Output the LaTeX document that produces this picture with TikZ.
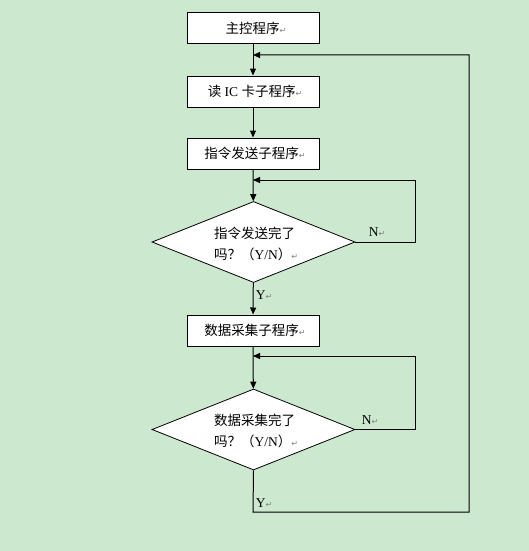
\documentclass[tikz,border=0pt]{standalone}
\usepackage{fontspec}
\setmainfont{Liberation Serif}
\newfontfamily\cjk{Noto Sans CJK SC}
\newfontfamily\symf{DejaVu Sans}
\usetikzlibrary{shapes.geometric,arrows.meta}
\definecolor{bg}{RGB}{204,232,207}
\newcommand\pmark{{\symf\color{gray}\fontsize{8}{8}\selectfont ↵}}
\tikzset{
  box/.style={draw=black,line width=1pt,fill=white,minimum width=132pt,minimum height=31pt,inner sep=0pt,font=\fontsize{13.5}{16}\selectfont},
  dia/.style={draw=black,line width=0.8pt,fill=white,diamond,minimum width=203pt,minimum height=81pt,inner sep=0pt},
  dtext/.style={align=left,font=\fontsize{13.5}{21}\selectfont,inner sep=0pt},
  lbl/.style={font=\fontsize{13.5}{16}\selectfont,inner sep=0pt},
  arr/.style={draw=black,line width=1pt,-{Triangle[length=7pt,width=6pt]}},
  ln/.style={draw=black,line width=1pt}
}
\begin{document}
\begin{tikzpicture}[x=1pt,y=-1pt]
\useasboundingbox (0,0) rectangle (529,551);
\fill[bg] (0,0) rectangle (529,551);
\node[box] (b1) at (253,28.5) {\hspace{6pt}{\cjk 主控程序}\pmark};
\node[box] (b2) at (253,91.5) {\hspace{4pt}{\cjk 读} IC {\cjk 卡子程序}\pmark};
\node[box] (b3) at (253,153.5) {\hspace{4pt}{\cjk 指令发送子程序}\pmark};
\node[dia] (d1) at (253.5,242) {};
\node[dtext] (t1) at (256,244) {{\cjk 指令发送完了}\\{\cjk 吗？（}Y/N{\cjk ）}\pmark};
\node[box] (b4) at (253,330.5) {\hspace{4pt}{\cjk 数据采集子程序}\pmark};
\node[dia] (d2) at (253.5,429.5) {};
\node[dtext] (t2) at (256,431) {{\cjk 数据采集完了}\\{\cjk 吗？（}Y/N{\cjk ）}\pmark};
\coordinate (m1) at (253,55);
\coordinate (m2) at (253,180);
\coordinate (m3) at (253,356);
\coordinate (r1) at (415,180);
\coordinate (r2) at (415,356);
\coordinate (bl) at (253,512);
\coordinate (br) at (469,512);
\coordinate (tr) at (469,55);
\draw[arr] (b1) -- (b2);
\draw[arr] (b2) -- (b3);
\draw[arr] (b3) -- (d1);
\draw[arr] (d1) -- (b4);
\draw[arr] (b4) -- (d2);
\draw[arr] (d1.east) -| (r1) -- (m2);
\draw[arr] (d2.east) -| (r2) -- (m3);
\draw[arr] (d2.south) -- (bl) -- (br) -- (tr) -- (m1);
\node[lbl] (n1) at (377,232) {N\pmark};
\node[lbl] (y1) at (264,295) {Y\pmark};
\node[lbl] (n2) at (370,420) {N\pmark};
\node[lbl] (y2) at (264,503) {Y\pmark};
\end{tikzpicture}
\end{document}
